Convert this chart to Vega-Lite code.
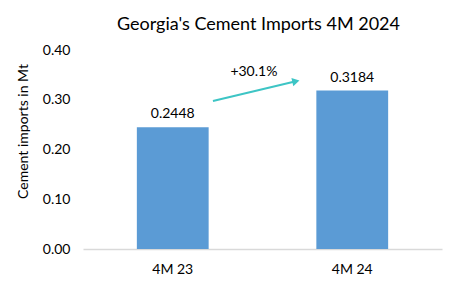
{
  "$schema": "https://vega.github.io/schema/vega-lite/v6.json",
  "width": 359,
  "height": 199,
  "autosize": {"type": "none"},
  "padding": {"left": 83, "top": 50, "right": 14, "bottom": 39},
  "background": "white",
  "config": {
    "font": "Lato",
    "view": {"stroke": null},
    "axis": {"grid": false}
  },
  "title": {
    "text": "Georgia's Cement Imports 4M 2024",
    "fontSize": 18,
    "fontWeight": "normal",
    "color": "#000000",
    "font": "Lato",
    "offset": 9,
    "dx": -4
  },
  "datasets": {
    "bars": [
      {"period": "4M 23", "value": 0.2448, "label": "0.2448"},
      {"period": "4M 24", "value": 0.3184, "label": "0.3184"}
    ],
    "arrow": [
      {"pos": 0.362, "y": 0.2975},
      {"pos": 0.596, "y": 0.3377}
    ],
    "head": [
      {"pos": 0.593, "y": 0.337}
    ],
    "note": [
      {"pos": 0.476, "y": 0.356, "text": "+30.1%"}
    ]
  },
  "layer": [
    {
      "data": {"name": "bars"},
      "encoding": {
        "x": {
          "field": "period",
          "type": "nominal",
          "scale": {"paddingInner": 0.6, "paddingOuter": 0.3},
          "axis": {
            "title": null,
            "labelAngle": 0,
            "labelFontSize": 14,
            "labelColor": "#000000",
            "labelPadding": 13,
            "ticks": false,
            "domainColor": "#d9d9d9",
            "domainWidth": 1.5
          }
        },
        "y": {
          "field": "value",
          "type": "quantitative",
          "scale": {"domain": [0, 0.4]},
          "axis": {
            "title": "Cement imports in Mt",
            "titleFontSize": 14,
            "titleFontWeight": "normal",
            "titleColor": "#000000",
            "titlePadding": 12,
            "titleY": 81,
            "format": ".2f",
            "values": [0, 0.1, 0.2, 0.3, 0.4],
            "labelFontSize": 14,
            "labelColor": "#000000",
            "labelPadding": 13,
            "ticks": false,
            "domain": false,
            "grid": false
          }
        }
      },
      "layer": [
        {"mark": {"type": "bar", "color": "#5b9bd5"}},
        {
          "mark": {"type": "text", "fontSize": 14, "color": "#000000", "dy": -6, "baseline": "bottom"},
          "encoding": {"text": {"field": "label"}}
        }
      ]
    },
    {
      "encoding": {
        "x": {"field": "pos", "type": "quantitative", "scale": {"domain": [0, 1]}, "axis": null},
        "y": {"field": "y", "type": "quantitative"}
      },
      "layer": [
        {
          "data": {"name": "arrow"},
          "mark": {"type": "line", "color": "#3dc5c5", "strokeWidth": 2}
        },
        {
          "data": {"name": "head"},
          "mark": {"type": "point", "shape": "triangle-right", "filled": true, "color": "#3dc5c5", "size": 70, "angle": 347, "opacity": 1}
        },
        {
          "data": {"name": "note"},
          "mark": {"type": "text", "fontSize": 14, "color": "#000000"},
          "encoding": {"text": {"field": "text"}}
        }
      ]
    }
  ],
  "resolve": {"scale": {"x": "independent"}, "axis": {"x": "independent"}}
}
